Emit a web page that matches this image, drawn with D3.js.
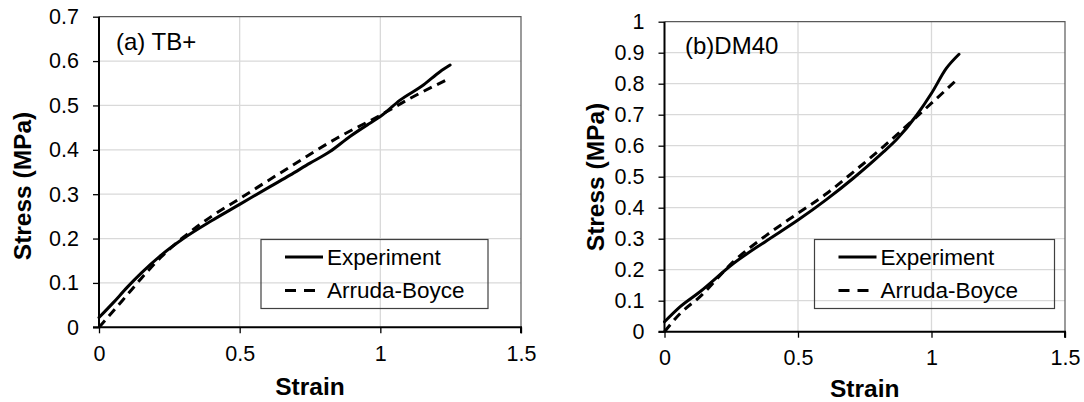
<!DOCTYPE html>
<html>
<head>
<meta charset="utf-8">
<script src="https://cdn.jsdelivr.net/npm/d3@7"></script>
<style>
  body { margin: 0; background: #fff; }
  svg { display: block; font-family: "Liberation Sans", Arial, sans-serif; }
</style>
</head>
<body>
<div id="chart"></div>
<script>
// ---- data ----
const xTicks = [0, 0.5, 1, 1.5];
const yTicksA = [0, 0.1, 0.2, 0.3, 0.4, 0.5, 0.6, 0.7];
const yTicksB = [0, 0.1, 0.2, 0.3, 0.4, 0.5, 0.6, 0.7, 0.8, 0.9, 1];

// (a) TB+
const expStrainA = [0, 0.05, 0.1, 0.15, 0.22, 0.3, 0.4, 0.5, 0.608, 0.679, 0.75, 0.821, 0.892, 0.963, 1.0, 1.07, 1.153, 1.212, 1.248];
const expStressA = [0.022, 0.055, 0.09, 0.122, 0.162, 0.2, 0.24, 0.277, 0.317, 0.343, 0.37, 0.396, 0.43, 0.46, 0.475, 0.512, 0.546, 0.576, 0.591];
const abStrainA = [0, 0.05, 0.1, 0.15, 0.22, 0.3, 0.4, 0.5, 0.68, 0.845, 1.0, 1.106, 1.24];
const abStressA = [0, 0.036, 0.073, 0.11, 0.158, 0.203, 0.25, 0.29, 0.362, 0.426, 0.478, 0.516, 0.559];

// (b) DM40
const expStrainB = [0, 0.059, 0.133, 0.258, 0.38, 0.5, 0.606, 0.707, 0.82, 0.87, 0.945, 1.0, 1.056, 1.103];
const expStressB = [0.032, 0.081, 0.129, 0.22, 0.292, 0.36, 0.426, 0.495, 0.58, 0.621, 0.699, 0.769, 0.85, 0.895];
const abStrainB = [0, 0.059, 0.133, 0.258, 0.38, 0.5, 0.606, 0.707, 0.82, 0.945, 1.0, 1.1];
const abStressB = [0, 0.059, 0.113, 0.226, 0.31, 0.382, 0.445, 0.515, 0.597, 0.694, 0.737, 0.817];

const seriesNames = ["Experiment", "Arruda-Boyce"];

const W = 1084, H = 402;
const svg = d3.select("#chart").append("svg").attr("width", W).attr("height", H);

const panels = [
  { left: 99, right: 521, top: 16.7, bottom: 327.3, yMax: 0.7, yTicks: yTicksA,
    title: "(a) TB+", titleX: 116, titleY: 50,
    ylabX: 31, ylabY: 186, xlabY: 395,
    exp: [expStrainA, expStressA], ab: [abStrainA, abStressA],
    legend: { x: 261, y: 239.5, w: 227, h: 69 } },
  { left: 664.5, right: 1065, top: 21.7, bottom: 331.7, yMax: 1, yTicks: yTicksB,
    title: "(b)DM40", titleX: 685, titleY: 54,
    ylabX: 604, ylabY: 177, xlabY: 397,
    exp: [expStrainB, expStressB], ab: [abStrainB, abStressB],
    legend: { x: 814.5, y: 239.5, w: 240, h: 69 } }
];

panels.forEach(p => drawPanel(p));

function drawPanel(p) {
  const x = d3.scaleLinear().domain([0, 1.5]).range([p.left, p.right]);
  const y = d3.scaleLinear().domain([0, p.yMax]).range([p.bottom, p.top]);
  const g = svg.append("g");

  // gridlines
  g.selectAll(".hgrid").data(p.yTicks.filter(d => d > 0 && d < p.yMax))
    .enter().append("line")
    .attr("x1", p.left).attr("x2", p.right)
    .attr("y1", d => y(d)).attr("y2", d => y(d))
    .attr("stroke", "#d9d9d9").attr("stroke-width", 1.3);
  g.selectAll(".vgrid").data(xTicks.filter(d => d > 0 && d < 1.5))
    .enter().append("line")
    .attr("x1", d => x(d)).attr("x2", d => x(d))
    .attr("y1", p.top).attr("y2", p.bottom)
    .attr("stroke", "#d9d9d9").attr("stroke-width", 1.3);

  // top / right frame
  g.append("path")
    .attr("d", `M${p.left},${p.top}H${p.right}V${p.bottom}`)
    .attr("fill", "none").attr("stroke", "#595959").attr("stroke-width", 1.2);

  // axes
  const yAxis = g.append("g").attr("transform", `translate(${p.left},0)`)
    .call(d3.axisLeft(y).tickValues(p.yTicks).tickSize(6).tickPadding(14).tickFormat(d => String(d)));
  const xAxis = g.append("g").attr("transform", `translate(0,${p.bottom})`)
    .call(d3.axisBottom(x).tickValues(xTicks).tickSize(6).tickPadding(12).tickFormat(d => String(d)));
  [yAxis, xAxis].forEach(a => {
    a.select(".domain").attr("stroke", "#000").attr("stroke-width", 2);
    a.selectAll(".tick line").attr("stroke", "#000").attr("stroke-width", 1.3);
    a.selectAll("text").attr("font-size", 21.5).attr("fill", "#000")
      .attr("font-family", "Liberation Sans, Arial, sans-serif");
  });
  yAxis.select(".domain").attr("d", `M-6,${p.bottom}H0V${p.top}`);
  xAxis.select(".domain").attr("d", `M${p.left},0H${p.right}V6`);

  // axis titles
  g.append("text")
    .attr("x", (p.left + p.right) / 2).attr("y", p.xlabY)
    .attr("text-anchor", "middle").attr("font-size", 24.5).attr("font-weight", "bold")
    .text("Strain");
  g.append("text")
    .attr("transform", `translate(${p.ylabX},${p.ylabY}) rotate(-90)`)
    .attr("text-anchor", "middle").attr("font-size", 24.5).attr("font-weight", "bold")
    .text("Stress (MPa)");

  // panel label
  g.append("text").attr("x", p.titleX).attr("y", p.titleY)
    .attr("font-size", 24).attr("xml:space", "preserve").text(p.title);

  // curves
  const line = d3.line().x(d => x(d[0])).y(d => y(d[1])).curve(d3.curveMonotoneX);
  const expPts = d3.zip(p.exp[0], p.exp[1]);
  const abPts = d3.zip(p.ab[0], p.ab[1]);
  g.append("path").datum(abPts).attr("d", line)
    .attr("fill", "none").attr("stroke", "#000").attr("stroke-width", 3)
    .attr("stroke-dasharray", "9,6");
  g.append("path").datum(expPts).attr("d", line)
    .attr("fill", "none").attr("stroke", "#000").attr("stroke-width", 3)
    .attr("stroke-linecap", "round");

  // legend
  const L = p.legend;
  const lg = g.append("g").attr("transform", `translate(${L.x},${L.y})`);
  lg.append("rect").attr("width", L.w).attr("height", L.h)
    .attr("fill", "none").attr("stroke", "#404040").attr("stroke-width", 1.2);
  seriesNames.forEach((name, i) => {
    const ly = 17.5 + i * 33.5;
    lg.append("line").attr("x1", 24).attr("x2", i === 0 ? 62 : 57)
      .attr("y1", ly).attr("y2", ly)
      .attr("stroke", "#000").attr("stroke-width", 3)
      .attr("stroke-dasharray", i === 0 ? null : "11,8");
    lg.append("text").attr("x", 66).attr("y", ly + 7.5)
      .attr("font-size", 22.5).text(name);
  });
}
</script>
</body>
</html>
